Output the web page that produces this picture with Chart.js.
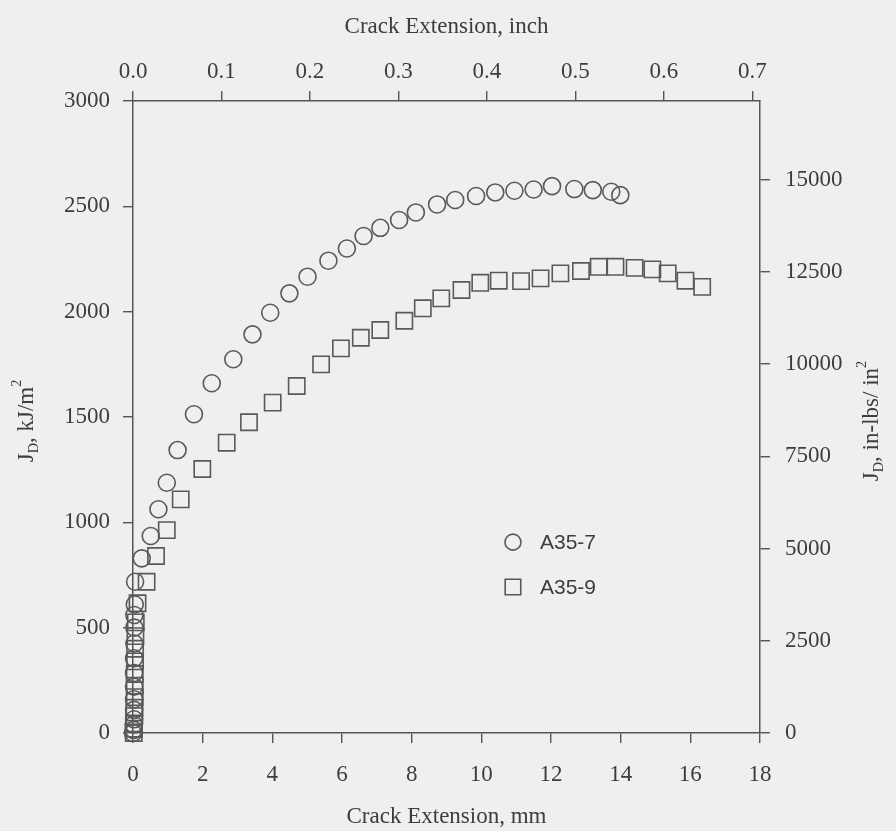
<!DOCTYPE html>
<html>
<head>
<meta charset="utf-8">
<title>Crack extension resistance</title>
<script src="https://cdn.jsdelivr.net/npm/chart.js@4.4.1/dist/chart.umd.min.js"></script>
<style>
  html, body { margin: 0; padding: 0; background: #efefed; }
  #jrCurve { display: block; }
</style>
</head>
<body>
<canvas id="jrCurve" width="896" height="831"></canvas>
<script>
// specimen A35-7: crack extension (mm) and J_D (kJ/m^2)
const a357Ext = [0, 0.02, 0.02, 0.03, 0.03, 0.03, 0.03, 0.03, 0.03, 0.04, 0.04, 0.04, 0.05, 0.06,
  0.25, 0.51, 0.73, 0.97, 1.28, 1.75, 2.26, 2.88, 3.43, 3.94, 4.49, 5.01, 5.61, 6.14, 6.62,
  7.10, 7.64, 8.12, 8.73, 9.25, 9.85, 10.40, 10.95, 11.50, 12.03, 12.67, 13.20, 13.73, 13.99];
const a357J = [0, 15, 40, 65, 110, 160, 220, 285, 355, 425, 500, 560, 610, 718,
  829, 935, 1062, 1188, 1343, 1513, 1660, 1774, 1892, 1995, 2087, 2166, 2242, 2300, 2359,
  2398, 2435, 2471, 2509, 2530, 2549, 2566, 2574, 2580, 2596, 2582, 2577, 2569, 2553];

// specimen A35-9
const a359Ext = [0.02, 0.03, 0.03, 0.04, 0.04, 0.05, 0.05, 0.05, 0.06, 0.06, 0.07, 0.08, 0.13,
  0.39, 0.66, 0.97, 1.37, 1.99, 2.69, 3.33, 4.01, 4.70, 5.40, 5.97, 6.54, 7.10, 7.79, 8.32,
  8.85, 9.43, 9.97, 10.50, 11.14, 11.70, 12.27, 12.86, 13.37, 13.85, 14.40, 14.91, 15.35,
  15.86, 16.34];
const a359J = [0, 20, 45, 80, 120, 170, 225, 280, 340, 400, 460, 525, 616,
  718, 840, 963, 1109, 1253, 1378, 1475, 1568, 1647, 1750, 1826, 1876, 1913, 1957, 2016,
  2063, 2103, 2137, 2147, 2145, 2158, 2182, 2193, 2213, 2213, 2208, 2201, 2182,
  2147, 2118];

// tick labels for the four axes
const mmTicks = [0, 2, 4, 6, 8, 10, 12, 14, 16, 18];
const inchTicks = [0, 0.1, 0.2, 0.3, 0.4, 0.5, 0.6, 0.7];
const kjTicks = [0, 500, 1000, 1500, 2000, 2500, 3000];
const inlbTicks = [0, 2500, 5000, 7500, 10000, 12500, 15000];

const MM_PER_INCH = 25.4;
const KJ_PER_INLB = 0.17513; // 1 in-lb/in^2 in kJ/m^2
const MM_MAX = 18, KJ_MAX = 3000;

const ink = '#3d3d3d';
const axisInk = '#555555';
const serif = '"Liberation Serif", "Times New Roman", serif';

const toPoints = (xs, ys) => xs.map((x, i) => ({ x: x, y: ys[i] }));
const fixTicks = list => scale => { scale.ticks = list.map(v => ({ value: v })); };

const gridOpts = {
  display: true,
  drawOnChartArea: false,
  drawTicks: true,
  tickLength: 10,
  color: axisInk,
  lineWidth: 1.4
};
const borderOpts = { display: true, color: axisInk, width: 1.5 };
const tickFont = { family: serif, size: 23 };
const titleFont = { family: serif, size: 23 };

// rotated axis titles with subscript / superscript parts
function drawRichTitle(ctx, parts, x, y, size) {
  ctx.save();
  ctx.translate(x, y);
  ctx.rotate(-Math.PI / 2);
  ctx.fillStyle = ink;
  ctx.textBaseline = 'alphabetic';
  ctx.textAlign = 'left';
  const fontFor = p => (p.k === 'n' ? size : size * 0.62) + 'px ' + serif;
  let total = 0;
  parts.forEach(p => { ctx.font = fontFor(p); total += ctx.measureText(p.t).width; });
  let cx = -total / 2;
  const base = size * 0.33;
  parts.forEach(p => {
    ctx.font = fontFor(p);
    let dy = 0;
    if (p.k === 'sub') dy = size * 0.25;
    if (p.k === 'sup') dy = -size * 0.5;
    ctx.fillText(p.t, cx, base + dy);
    cx += ctx.measureText(p.t).width;
  });
  ctx.restore();
}

const titlesAndKey = {
  id: 'titlesAndKey',
  afterDraw(chart) {
    const ctx = chart.ctx;
    const area = chart.chartArea;
    drawRichTitle(ctx, [
      { t: 'J', k: 'n' }, { t: 'D', k: 'sub' }, { t: ', kJ/m', k: 'n' }, { t: '2', k: 'sup' }
    ], 25, 421, 23);
    drawRichTitle(ctx, [
      { t: 'J', k: 'n' }, { t: 'D', k: 'sub' }, { t: ', in-lbs/ in', k: 'n' }, { t: '2', k: 'sup' }
    ], 870, 421, 23);

    // key inside the plot
    const kx = area.left + area.width * 0.606;
    const rows = [area.top + area.height * 0.698, area.top + area.height * 0.769];
    chart.data.datasets.forEach((ds, i) => {
      ctx.save();
      ctx.strokeStyle = ds.borderColor;
      ctx.lineWidth = ds.borderWidth;
      Chart.helpers.drawPoint(ctx, {
        pointStyle: ds.pointStyle,
        radius: ds.pointStyle === 'rect' ? 11 : 8,
        rotation: 0,
        borderWidth: ds.borderWidth
      }, kx, rows[i]);
      ctx.fillStyle = ink;
      ctx.font = '21px "Liberation Sans", Arial, sans-serif';
      ctx.textBaseline = 'middle';
      ctx.fillText(ds.label, kx + 27, rows[i] + 1);
      ctx.restore();
    });
  }
};

new Chart(document.getElementById('jrCurve').getContext('2d'), {
  type: 'scatter',
  data: {
    datasets: [{
      label: 'A35-7',
      data: toPoints(a357Ext, a357J),
      pointStyle: 'circle',
      pointRadius: 8.5,
      pointHoverRadius: 8.5,
      borderColor: '#595959',
      backgroundColor: 'rgba(0,0,0,0)',
      borderWidth: 1.6,
      clip: false
    }, {
      label: 'A35-9',
      data: toPoints(a359Ext, a359J),
      pointStyle: 'rect',
      pointRadius: 11.5,
      pointHoverRadius: 11.5,
      borderColor: '#595959',
      backgroundColor: 'rgba(0,0,0,0)',
      borderWidth: 1.6,
      clip: false
    }]
  },
  options: {
    responsive: false,
    animation: false,
    events: [],
    layout: { padding: 0 },
    plugins: { legend: { display: false }, tooltip: { enabled: false } },
    scales: {
      x: {
        type: 'linear',
        position: 'bottom',
        min: 0,
        max: MM_MAX,
        afterBuildTicks: fixTicks(mmTicks),
        afterFit: s => { s.height = 98; },
        grid: gridOpts,
        border: borderOpts,
        ticks: { color: ink, font: tickFont, padding: 18, maxRotation: 0, autoSkip: false },
        title: {
          display: true,
          text: 'Crack Extension, mm',
          color: ink,
          font: titleFont,
          padding: { top: 0, bottom: 0 }
        }
      },
      x2: {
        type: 'linear',
        position: 'top',
        min: 0,
        max: MM_MAX / MM_PER_INCH,
        afterBuildTicks: fixTicks(inchTicks),
        afterFit: s => { s.height = 101; },
        grid: gridOpts,
        border: borderOpts,
        ticks: {
          color: ink, font: tickFont, padding: 5, maxRotation: 0, autoSkip: false,
          callback: v => v.toFixed(1)
        },
        title: {
          display: true,
          text: 'Crack Extension, inch',
          color: ink,
          font: titleFont,
          padding: { top: 13, bottom: 0 }
        }
      },
      y: {
        type: 'linear',
        position: 'left',
        min: 0,
        max: KJ_MAX,
        afterBuildTicks: fixTicks(kjTicks),
        afterFit: s => { s.width = 133; },
        grid: gridOpts,
        border: borderOpts,
        ticks: { color: ink, font: tickFont, padding: 13, callback: v => String(v) }
      },
      y2: {
        type: 'linear',
        position: 'right',
        min: 0,
        max: KJ_MAX / KJ_PER_INLB,
        afterBuildTicks: fixTicks(inlbTicks),
        afterFit: s => { s.width = 136; },
        grid: gridOpts,
        border: borderOpts,
        ticks: { color: ink, font: tickFont, padding: 15, callback: v => String(v) }
      }
    }
  },
  plugins: [titlesAndKey]
});
</script>
</body>
</html>
